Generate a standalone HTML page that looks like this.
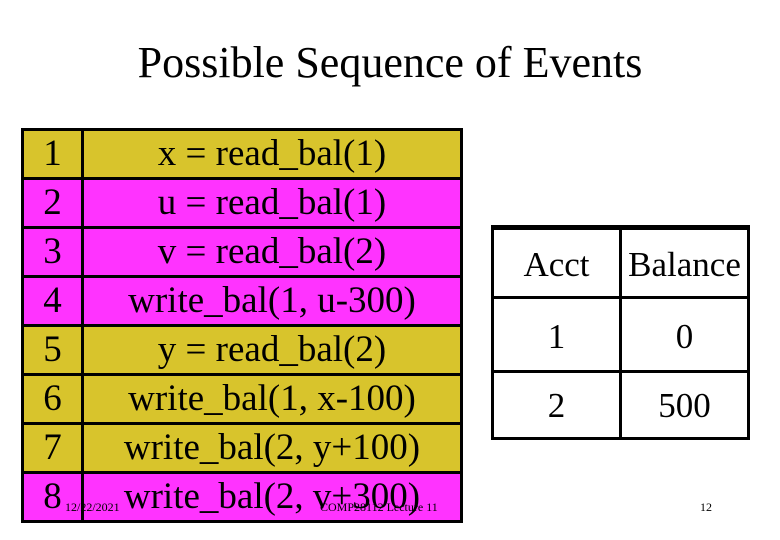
<!DOCTYPE html>
<html><head><style>
body{margin:0;width:780px;height:540px;background:#fff;position:relative;overflow:hidden;font-family:"Liberation Serif",serif;}
.t{position:absolute;left:0;width:780px;top:38px;text-align:center;font-size:44px;line-height:50px;}
.r{position:absolute;left:21px;width:442px;height:49px;box-sizing:border-box;border:3px solid #000;border-bottom:none;font-size:37px;line-height:46px;}
.r .n{position:absolute;left:0;width:57px;top:0;bottom:0;border-right:3px solid #000;text-align:center;}
.r .c{position:absolute;left:60px;right:0;top:0;text-align:center;}
.y{background:#d8c42c}.m{background:#ff33ff}
.f{position:absolute;font-size:12px;}
.h{position:absolute;background:#000;}
.rc{position:absolute;text-align:center;font-size:35px;}
</style></head><body>
<div class="t">Possible Sequence of Events</div>
<div class="r y" style="top:128px"><div class="n">1</div><div class="c">x = read_bal(1)</div></div>
<div class="r m" style="top:177px"><div class="n">2</div><div class="c">u = read_bal(1)</div></div>
<div class="r m" style="top:226px"><div class="n">3</div><div class="c">v = read_bal(2)</div></div>
<div class="r m" style="top:275px"><div class="n">4</div><div class="c">write_bal(1, u-300)</div></div>
<div class="r y" style="top:324px"><div class="n">5</div><div class="c">y = read_bal(2)</div></div>
<div class="r y" style="top:373px"><div class="n">6</div><div class="c">write_bal(1, x-100)</div></div>
<div class="r y" style="top:422px"><div class="n">7</div><div class="c">write_bal(2, y+100)</div></div>
<div class="r m" style="top:471px;height:52px;border-bottom:3px solid #000"><div class="n">8</div><div class="c">write_bal(2, v+300)</div></div>
<div class="f" style="left:65px;top:500px">12/22/2021</div>
<div class="f" style="left:320px;top:500px">COMP28112 Lecture 11</div>
<!-- right table -->
<div class="h" style="left:491px;top:225px;width:259px;height:5px"></div>
<div class="h" style="left:491px;top:296px;width:259px;height:3px"></div>
<div class="h" style="left:491px;top:370px;width:259px;height:3px"></div>
<div class="h" style="left:491px;top:437px;width:259px;height:3px"></div>
<div class="h" style="left:491px;top:225px;width:3px;height:215px"></div>
<div class="h" style="left:619px;top:225px;width:3px;height:215px"></div>
<div class="h" style="left:747px;top:225px;width:3px;height:215px"></div>
<div class="rc" style="left:494px;width:125px;top:245px">Acct</div>
<div class="rc" style="left:622px;width:125px;top:245px">Balance</div>
<div class="rc" style="left:494px;width:125px;top:317px">1</div>
<div class="rc" style="left:622px;width:125px;top:317px">0</div>
<div class="rc" style="left:494px;width:125px;top:386px">2</div>
<div class="rc" style="left:622px;width:125px;top:386px">500</div>
<div class="f" style="left:700px;top:500px">12</div>
</body></html>
